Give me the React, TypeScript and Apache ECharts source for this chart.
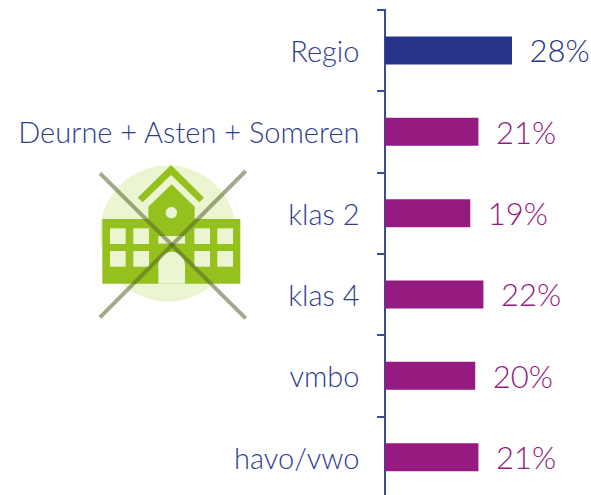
import React, { useEffect, useRef } from "react";
import * as echarts from "echarts";

const categories = ["Regio", "Deurne + Asten + Someren", "klas 2", "klas 4", "vmbo", "havo/vwo"];
const values = [28, 20.6, 18.8, 21.7, 19.9, 20.6];
const barColors = ["#27348b", "#951b81", "#951b81", "#951b81", "#951b81", "#951b81"];

const NAVY = "#2f3d90";
const FONT = "Lato";
const LIGHT = "#ebf5d1";
const GREEN = "#95c11f";

const ox = 90, oy = 155;
const P = (x: number, y: number) => [ox + x / 3, oy + y / 3];
const R = (x0: number, y0: number, x1: number, y1: number, fill: string) => ({
  type: "rect",
  shape: { x: ox + x0 / 3, y: oy + y0 / 3, width: (x1 - x0) / 3, height: (y1 - y0) / 3 },
  style: { fill },
});
const windows = [60, 130, 313, 382].flatMap((x) =>
  [220, 288].map((y) => R(x, y, x + 47, y + 47, LIGHT))
);
const cross = (a: number[], b: number[]) => ({
  type: "line",
  shape: { x1: a[0], y1: a[1], x2: b[0], y2: b[1] },
  style: { stroke: "rgba(86,100,40,0.55)", lineWidth: 4 },
});

export default function App() {
  const ref = useRef<HTMLDivElement>(null);
  useEffect(() => {
    const chart = echarts.init(ref.current!, undefined, { renderer: "svg" });
    chart.setOption({
      animation: false,
      grid: { left: 385, top: 9.8, width: 204.1, height: 488, outerBoundsMode: "none" },
      xAxis: { type: "value", min: 0, max: 45, show: false },
      yAxis: {
        type: "category",
        inverse: true,
        offset: 1.5,
        data: categories,
        axisLine: { lineStyle: { color: "#3a4a9a", width: 2 } },
        axisTick: { show: true, length: 8, lineStyle: { color: "#3a4a9a", width: 2 } },
        axisLabel: { color: NAVY, fontFamily: FONT, fontWeight: 300, fontSize: 29, margin: 24 },
      },
      series: [
        {
          type: "bar",
          barWidth: 28,
          data: values.map((v, i) => ({
            value: v,
            itemStyle: { color: barColors[i] },
            label: { color: barColors[i] },
          })),
          label: {
            show: true,
            position: "right",
            distance: 17.5,
            formatter: (p: any) => `${Math.round(p.value)}%`,
            fontFamily: FONT,
            fontWeight: 300,
            fontSize: 31,
          },
        },
      ],
      graphic: [
        {
          type: "group",
          silent: true,
          children: [
            { type: "circle", shape: { cx: 168, cy: 233.5, r: 68 }, style: { fill: LIGHT } },
            {
              type: "polygon",
              shape: { points: [P(243, 30), P(342, 128), P(328, 142), P(243, 60), P(158, 142), P(143, 128)] },
              style: { fill: GREEN },
            },
            {
              type: "polygon",
              shape: { points: [P(245, 88), P(314, 155), P(314, 192), P(451, 192), P(451, 386), P(37, 386), P(37, 192), P(175, 192), P(175, 155)] },
              style: { fill: GREEN },
            },
            ...windows,
            R(205, 243, 285, 266, LIGHT),
            R(205, 330, 285, 386, LIGHT),
            { type: "circle", shape: { cx: ox + 245 / 3, cy: oy + 330 / 3, r: 40 / 3 }, style: { fill: LIGHT } },
            { type: "circle", shape: { cx: ox + 244 / 3, cy: oy + 173 / 3, r: 17 / 3 }, style: { fill: LIGHT } },
            cross(P(30, 55), P(467, 490)),
            cross(P(467, 48), P(30, 487)),
          ],
        },
      ],
    });
    return () => chart.dispose();
  }, []);
  return <div ref={ref} style={{ position: "absolute", left: 0, top: 0, width: 591, height: 495 }} />;
}
